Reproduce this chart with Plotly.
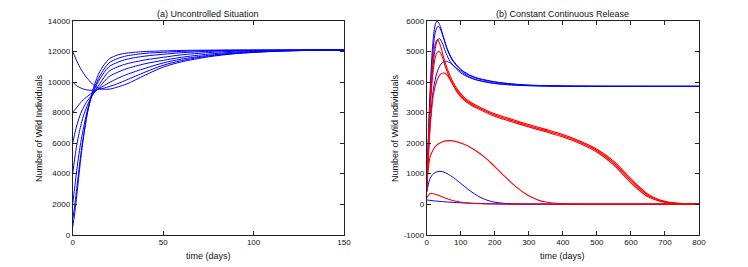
import plotly.graph_objects as go

# ---------------- Panel (a): Uncontrolled Situation ----------------
t_a = [0, 1, 2, 3, 4, 5, 6, 8, 10, 12, 15, 20, 25, 30, 40, 50, 60, 75, 90, 110, 130, 150]

a_12000 = [12000, 11720, 11450, 11200, 10970, 10760, 10570, 10250, 9980, 9760, 9570, 9530, 9680, 9880, 10450, 10980, 11320, 11650, 11860, 12000, 12070, 12100]
a_10000 = [10000, 9880, 9780, 9700, 9640, 9580, 9540, 9480, 9460, 9470, 9530, 9700, 9900, 10150, 10650, 11100, 11400, 11700, 11880, 12010, 12075, 12100]
a_8000 = [8000, 8150, 8300, 8450, 8600, 8730, 8850, 9050, 9230, 9380, 9600, 9950, 10250, 10500, 10900, 11250, 11500, 11750, 11910, 12030, 12080, 12100]
a_6000 = [6000, 6550, 7050, 7450, 7800, 8100, 8350, 8750, 9050, 9300, 9700, 10350, 10650, 10880, 11200, 11420, 11620, 11830, 11960, 12050, 12090, 12100]
a_4000 = [4000, 4900, 5700, 6350, 6900, 7400, 7800, 8450, 8950, 9350, 9900, 10700, 11000, 11200, 11450, 11620, 11780, 11930, 12020, 12070, 12095, 12100]
a_2000 = [2000, 3000, 4000, 4900, 5700, 6400, 7000, 8100, 8900, 9500, 10200, 11000, 11300, 11500, 11700, 11820, 11920, 12010, 12060, 12085, 12098, 12100]
a_1000 = [1000, 1800, 2800, 3800, 4800, 5700, 6500, 7900, 8900, 9600, 10400, 11250, 11550, 11720, 11880, 11950, 12010, 12060, 12085, 12095, 12100, 12100]
a_500 = [500, 1300, 2300, 3400, 4500, 5500, 6400, 7900, 9000, 9800, 10700, 11500, 11780, 11900, 12000, 12040, 12070, 12090, 12100, 12100, 12100, 12100]

curves_a = [a_12000, a_10000, a_8000, a_6000, a_4000, a_2000, a_1000, a_500]

# ---------------- Panel (b): Constant Continuous Release ----------------
# blue: persistence, red: extinction
tb1 = [0, 3, 6, 10, 15, 20, 25, 30, 35, 40, 50, 60, 75, 100, 125, 150, 200, 250, 300, 400, 500, 600, 800]
b1 = [500, 1500, 2600, 3700, 4800, 5500, 5880, 6000, 5950, 5820, 5450, 5100, 4750, 4420, 4240, 4130, 4010, 3940, 3900, 3870, 3862, 3860, 3860]

tb2 = [0, 3, 6, 10, 15, 20, 25, 33, 40, 50, 60, 75, 100, 125, 150, 200, 250, 300, 400, 500, 800]
b2 = [500, 1400, 2400, 3500, 4500, 5200, 5620, 5826, 5740, 5420, 5080, 4720, 4400, 4220, 4110, 4000, 3935, 3895, 3868, 3861, 3860]

tb3 = [0, 3, 6, 10, 15, 20, 25, 30, 37, 45, 55, 65, 75, 100, 125, 150, 200, 250, 300, 400, 500, 800]
b3 = [500, 1300, 2200, 3200, 4100, 4700, 5100, 5330, 5430, 5300, 5000, 4750, 4580, 4300, 4150, 4060, 3960, 3910, 3885, 3865, 3861, 3860]

tb4 = [0, 3, 6, 10, 15, 20, 30, 40, 50, 58, 70, 85, 100, 125, 150, 200, 250, 300, 400, 500, 800]
b4 = [400, 1100, 1800, 2600, 3300, 3800, 4300, 4560, 4660, 4680, 4620, 4480, 4350, 4170, 4060, 3950, 3905, 3880, 3865, 3861, 3860]

tb5 = [0, 5, 10, 20, 30, 42, 60, 80, 100, 120, 140, 160, 180, 200, 230, 260, 300, 350, 800]
b5 = [400, 650, 850, 1000, 1060, 1075, 1000, 860, 680, 500, 340, 210, 120, 65, 25, 8, 2, 0, 0]

tb6 = [0, 20, 50, 100, 150, 200, 250, 300, 400, 800]
b6 = [140, 110, 80, 45, 25, 12, 5, 2, 0, 0]

tr1 = [0, 3, 6, 10, 15, 20, 25, 32, 40, 50, 60, 75, 90, 110, 130, 150, 200, 250, 300, 350, 400, 450, 500, 550, 600, 650, 700, 750, 800]
r1 = [500, 1400, 2300, 3300, 4300, 4900, 5250, 5390, 5200, 4800, 4450, 4050, 3760, 3500, 3330, 3210, 2960, 2780, 2610, 2450, 2280, 2070, 1800, 1400, 830, 330, 95, 18, 2]

tr2 = [0, 3, 6, 10, 15, 20, 25, 30, 36, 45, 55, 65, 75, 90, 110, 130, 150, 200, 250, 300, 350, 400, 450, 500, 550, 600, 650, 700, 750, 800]
r2 = [500, 1300, 2100, 3000, 3900, 4450, 4800, 4960, 5008, 4850, 4500, 4200, 3960, 3700, 3450, 3290, 3170, 2920, 2740, 2570, 2410, 2240, 2030, 1760, 1340, 770, 290, 75, 12, 2]

tr3 = [0, 3, 6, 10, 15, 20, 30, 40, 50, 60, 75, 90, 110, 130, 150, 200, 250, 300, 350, 400, 450, 500, 550, 600, 650, 700, 750, 800]
r3 = [400, 1100, 1800, 2500, 3150, 3600, 4050, 4250, 4297, 4230, 3960, 3660, 3410, 3250, 3130, 2880, 2700, 2530, 2370, 2200, 1990, 1710, 1280, 700, 240, 58, 9, 1]

tr4 = [0, 5, 10, 20, 30, 45, 65, 90, 110, 130, 150, 170, 190, 210, 230, 250, 270, 290, 310, 330, 350, 380, 420, 500, 800]
r4 = [500, 1200, 1550, 1800, 1940, 2040, 2080, 2040, 1960, 1850, 1710, 1540, 1340, 1120, 900, 690, 500, 340, 215, 125, 70, 30, 10, 0, 0]

tr5 = [0, 5, 12, 20, 40, 60, 90, 120, 160, 200, 250, 800]
r5 = [200, 300, 350, 340, 270, 180, 85, 40, 12, 4, 0, 0]

blue_b = [(tb1, b1), (tb2, b2), (tb3, b3), (tb4, b4), (tb5, b5), (tb6, b6)]
red_b = [(tr1, r1), (tr2, r2), (tr3, r3), (tr4, r4), (tr5, r5)]

xticks_a = [0, 50, 100, 150]
yticks_a = [0, 2000, 4000, 6000, 8000, 10000, 12000, 14000]
xticks_b = [0, 100, 200, 300, 400, 500, 600, 700, 800]
yticks_b = [-1000, 0, 1000, 2000, 3000, 4000, 5000, 6000]

BLUE = "#0000ff"
RED = "#ff0000"
FONT = "Liberation Sans, Arial, sans-serif"

fig = go.Figure()
for ys in curves_a:
    fig.add_trace(go.Scatter(x=t_a, y=ys, mode="lines", xaxis="x", yaxis="y",
                             line=dict(color=BLUE, width=1, shape="spline", smoothing=0.8),
                             showlegend=False, hoverinfo="skip"))
for ts, ys in blue_b:
    fig.add_trace(go.Scatter(x=ts, y=ys, mode="lines", xaxis="x2", yaxis="y2",
                             line=dict(color=BLUE, width=1, shape="spline", smoothing=0.8),
                             showlegend=False, hoverinfo="skip"))
for ts, ys in red_b:
    fig.add_trace(go.Scatter(x=ts, y=ys, mode="lines", xaxis="x2", yaxis="y2",
                             line=dict(color=RED, width=1.1, shape="spline", smoothing=0.8),
                             showlegend=False, hoverinfo="skip"))

W, H = 748, 267
ytop, ybot = 21, 234.7
ydom = [(H - ybot) / H, (H - ytop) / H]

axis_common = dict(showgrid=False, zeroline=False, showline=True, linecolor="#222",
                   linewidth=1, mirror="ticks", ticks="inside", ticklen=4,
                   tickcolor="#222", tickfont=dict(family=FONT, size=8, color="#111"),
                   automargin=False)

def labels(vals):
    return [str(v) for v in vals]

fig.update_layout(
    width=W, height=H,
    margin=dict(l=0, r=0, t=0, b=0),
    paper_bgcolor="white", plot_bgcolor="white",
    xaxis=dict(domain=[72.7 / W, 344 / W], range=[0, 150], tickvals=xticks_a,
               ticktext=labels(xticks_a), anchor="y", **axis_common),
    yaxis=dict(domain=ydom, range=[0, 14000], tickvals=yticks_a,
               ticktext=labels(yticks_a), anchor="x", **axis_common),
    xaxis2=dict(domain=[426.7 / W, 699 / W], range=[0, 800], tickvals=xticks_b,
                ticktext=labels(xticks_b), anchor="y2", **axis_common),
    yaxis2=dict(domain=ydom, range=[-1000, 6000], tickvals=yticks_b,
                ticktext=labels(yticks_b), anchor="x2", **axis_common),
)

tfont = dict(family=FONT, size=9, color="#111")
ann = [
    dict(text="(a) Uncontrolled Situation", x=(72.7 + 344) / 2 / W, y=1 - 14 / H),
    dict(text="(b) Constant Continuous Release", x=(426.7 + 699) / 2 / W, y=1 - 14 / H),
    dict(text="time (days)", x=(72.7 + 344) / 2 / W, y=1 - 256 / H),
    dict(text="time (days)", x=(426.7 + 699) / 2 / W, y=1 - 256 / H),
    dict(text="Number of Wild Individuals", x=39 / W, y=1 - 128 / H, textangle=-90),
    dict(text="Number of Wild Individuals", x=395 / W, y=1 - 128 / H, textangle=-90),
]
for a in ann:
    fig.add_annotation(xref="paper", yref="paper", showarrow=False, xanchor="center",
                       yanchor="middle", font=tfont, **a)

fig.write_html("out.html", config={"displayModeBar": False},
               post_script="document.body.style.margin='0';document.body.style.overflow='hidden';")
